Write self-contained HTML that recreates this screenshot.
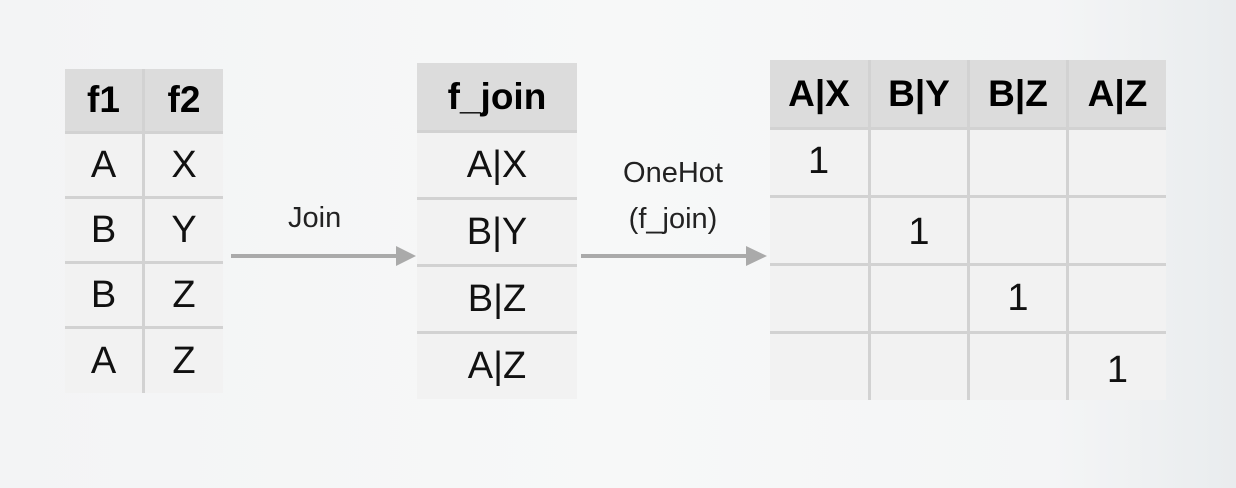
<!DOCTYPE html>
<html><head><meta charset="utf-8"><style>
body{margin:0;width:1236px;height:488px;overflow:hidden;background:linear-gradient(90deg,#f3f4f5 0%,#f7f8f8 50%,#f4f5f6 85%,#e9ecee 100%);font-family:"Liberation Sans",sans-serif;position:relative}
.g{position:absolute;background:#d2d2d2}
.c{position:absolute;background:#f2f2f2;display:flex;align-items:center;justify-content:center;font-size:38px;color:#111;box-sizing:border-box}
.h{background:#dcdcdc;font-weight:bold;font-size:37px;color:#000}
</style></head><body>
<div class="g" style="left:65px;top:69px;width:158px;height:324px"></div>
<div class="g" style="left:417px;top:63px;width:160px;height:336px"></div>
<div class="g" style="left:770px;top:60px;width:396px;height:340px"></div>
<!-- Table 1 -->
<div class="c h" style="left:65px;top:69px;width:77px;height:62px">f1</div>
<div class="c h" style="left:145px;top:69px;width:78px;height:62px">f2</div>
<div class="c" style="left:65px;top:134px;width:77px;height:62px">A</div>
<div class="c" style="left:145px;top:134px;width:78px;height:62px">X</div>
<div class="c" style="left:65px;top:199px;width:77px;height:62px">B</div>
<div class="c" style="left:145px;top:199px;width:78px;height:62px">Y</div>
<div class="c" style="left:65px;top:264px;width:77px;height:62px">B</div>
<div class="c" style="left:145px;top:264px;width:78px;height:62px">Z</div>
<div class="c" style="left:65px;top:329px;width:77px;height:64px">A</div>
<div class="c" style="left:145px;top:329px;width:78px;height:64px">Z</div>
<!-- Table 2 -->
<div class="c h" style="left:417px;top:63px;width:160px;height:67px">f_join</div>
<div class="c" style="left:417px;top:133px;width:160px;height:64px">A|X</div>
<div class="c" style="left:417px;top:200px;width:160px;height:64px">B|Y</div>
<div class="c" style="left:417px;top:267px;width:160px;height:64px">B|Z</div>
<div class="c" style="left:417px;top:334px;width:160px;height:65px">A|Z</div>
<!-- Arrows -->
<div style="position:absolute;left:288px;top:202px;font-size:29px;color:#222">Join</div>
<svg style="position:absolute;left:0;top:0" width="1236" height="488">
<line x1="231" y1="256" x2="398" y2="256" stroke="#aaa" stroke-width="4"/>
<polygon points="396,246 416,256 396,266" fill="#aaa"/>
<line x1="581" y1="256" x2="748" y2="256" stroke="#aaa" stroke-width="4"/>
<polygon points="746,246 767,256 746,266" fill="#aaa"/>
</svg>
<div style="position:absolute;left:593px;top:150px;width:160px;text-align:center;font-size:29px;line-height:46px;color:#222">OneHot<br>(f_join)</div>
<!-- Table 3 -->
<div class="c h" style="left:770px;top:60px;width:98px;height:67px">A|X</div>
<div class="c h" style="left:871px;top:60px;width:96px;height:67px">B|Y</div>
<div class="c h" style="left:970px;top:60px;width:96px;height:67px">B|Z</div>
<div class="c h" style="left:1069px;top:60px;width:97px;height:67px">A|Z</div>

<div class="c" style="left:770px;top:130px;width:98px;height:65px;justify-content:flex-start;padding-left:38px;align-items:flex-start;padding-top:10px">1</div>
<div class="c" style="left:871px;top:130px;width:96px;height:65px"></div>
<div class="c" style="left:970px;top:130px;width:96px;height:65px"></div>
<div class="c" style="left:1069px;top:130px;width:97px;height:65px"></div>

<div class="c" style="left:770px;top:198px;width:98px;height:65px"></div>
<div class="c" style="left:871px;top:198px;width:96px;height:65px;padding-top:4px;padding-left:0px">1</div>
<div class="c" style="left:970px;top:198px;width:96px;height:65px"></div>
<div class="c" style="left:1069px;top:198px;width:97px;height:65px"></div>

<div class="c" style="left:770px;top:266px;width:98px;height:65px"></div>
<div class="c" style="left:871px;top:266px;width:96px;height:65px"></div>
<div class="c" style="left:970px;top:266px;width:96px;height:65px;padding-top:0px;padding-left:0px">1</div>
<div class="c" style="left:1069px;top:266px;width:97px;height:65px"></div>

<div class="c" style="left:770px;top:334px;width:98px;height:66px"></div>
<div class="c" style="left:871px;top:334px;width:96px;height:66px"></div>
<div class="c" style="left:970px;top:334px;width:96px;height:66px"></div>
<div class="c" style="left:1069px;top:334px;width:97px;height:66px;padding-top:6px;padding-left:0px">1</div>
</body></html>
